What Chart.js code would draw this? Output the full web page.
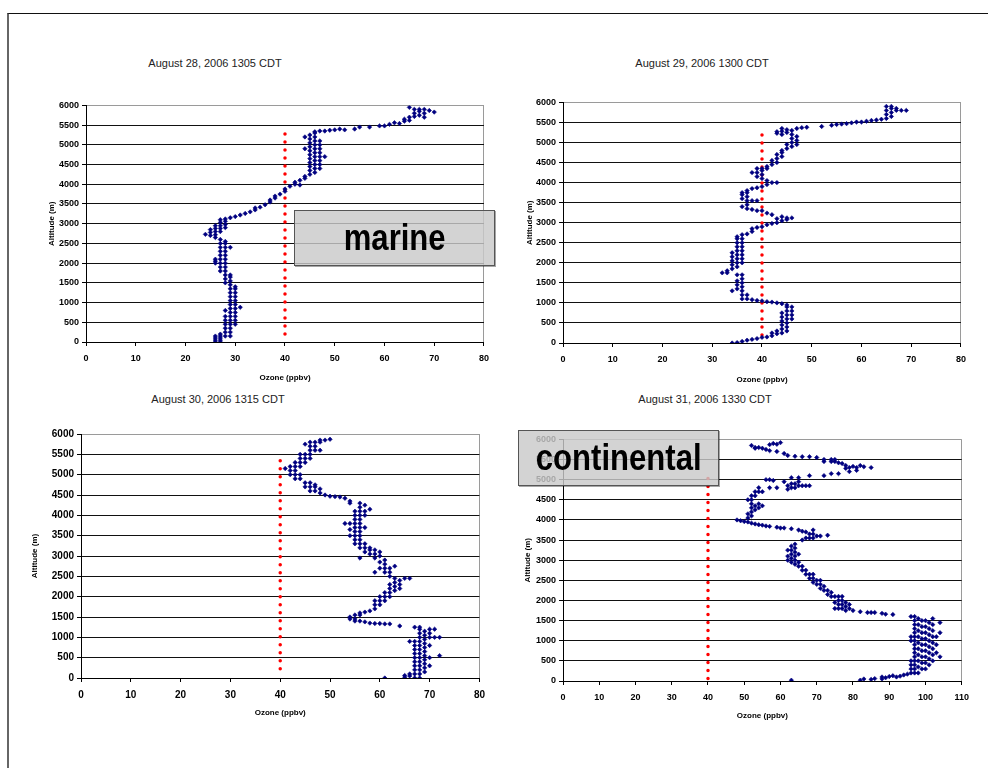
<!DOCTYPE html>
<html lang="en">
<head>
<meta charset="UTF-8" />
<title>Ozone profiles, August 28-31 2006</title>
<script src="https://cdn.jsdelivr.net/npm/chart.js"></script>
<style>
    body { margin: 0; background: #fff; font-family: "Liberation Sans", Arial, sans-serif; }
    #page { position: relative; width: 988px; height: 768px; overflow: hidden; }
    #frame { position: absolute; left: 7px; top: 13px; right: -4px; bottom: -4px; border-top: 1px solid #111; border-left: 2px solid #666; }
    canvas { position: absolute; }
    .title { position: absolute; font-size: 11px; color: #222; white-space: nowrap; transform: translateX(-50%); }
    .tag { position: absolute; box-sizing: border-box; background: rgba(201,201,201,0.82); border: 1px solid #555;
           box-shadow: 1px 1px 0 rgba(0,0,0,0.35);
           display: flex; align-items: center; justify-content: center; font-size: 37px; font-weight: bold; color: #000; }
    .tag span { display: inline-block; transform: scaleX(0.84); }
</style>
</head>
<body>
<div id="page">
    <div id="frame"></div>

    <div class="title" style="left:215px; top:57px;">August 28, 2006 1305 CDT</div>
    <div class="title" style="left:702px; top:57px;">August 29, 2006 1300 CDT</div>
    <div class="title" style="left:218px; top:393px;">August 30, 2006 1315 CDT</div>
    <div class="title" style="left:705px; top:393px;">August 31, 2006 1330 CDT</div>

    <canvas id="aug28" width="449" height="286" style="left:47px; top:97px;"></canvas>
    <canvas id="aug29" width="448" height="291" style="left:525px; top:94px;"></canvas>
    <canvas id="aug30" width="462" height="293" style="left:30px; top:425px;"></canvas>
    <canvas id="aug31" width="453" height="290" style="left:523px; top:431px;"></canvas>

    <div class="tag" style="left:294px; top:210px; width:201px; height:56px;"><span>marine</span></div>
    <div class="tag" style="left:518px; top:430px; width:201px; height:56px;"><span>continental</span></div>
</div>

<script>
    // [ozone ppbv, altitude m] for each sounding
    const aug28 = [
        [26,0],[26,50],[26,100],[26,150],[27,0],[27,50],[27,100],[27,150],[27,200],
        [28,150],[28,250],[28,350],[28,450],[28,550],[28,650],[28,800],
        [29,150],[29,250],[29,350],[29,450],[29,550],[29,650],[29,750],[29,850],[29,950],[29,1050],
        [29,1150],[29,1250],[29,1350],[29,1450],[29,1550],[29,1650],[29,1700],
        [30,450],[30,550],[30,650],[30,750],[30,850],[30,950],[30,1050],[30,1150],[30,1250],[30,1350],[30,1400],
        [31,880],
        [28,1500],[28,1600],[28,1700],[28,1800],[28,1900],[28,2000],[28,2100],[28,2200],[28,2300],[28,2400],[28,2500],[28,2550],
        [27,1800],[27,1900],[27,2000],[27,2100],[27,2200],[27,2300],[27,2400],[27,2500],[27,2600],
        [26,2000],[26,2050],[26,2100],[29,2400],
        [24,2730],[25,2700],[25,2780],[25,2850],[26,2650],[26,2720],[26,2800],[26,2880],[26,2950],
        [27,2800],[27,2880],[27,2950],[27,3030],[27,3100],[28,2900],[28,2980],[28,3060],[28,3120],
        [29,3150],[30,3180],[31,3220],[32,3260],[33,3300],[34,3350],[34,3400],[35,3420],[36,3480],
        [37,3550],[37,3600],[38,3650],[38,3700],[39,3750],[40,3820],[40,3880],[41,3950],[42,4000],
        [42,4050],[43,4100],[43,3980],[44,4150],[44,4200],
        [45,4250],[45,4350],[45,4450],[45,4550],[45,4650],[45,4750],[45,4850],[45,4950],[45,5050],[45,5150],[45,5250],
        [46,4300],[46,4400],[46,4500],[46,4600],[46,4700],[46,4800],[46,4900],[46,5000],[46,5100],[46,5200],[46,5300],
        [47,4400],[47,4500],[47,4600],[47,4700],[47,4800],[47,4900],[47,5000],[47,5100],
        [44,4900],[44,5200],[48,4700],
        [46,5330],[47,5350],[48,5350],[49,5370],[50,5380],[51,5400],[52,5380],[54,5400],[55,5450],
        [57,5450],[59,5480],[60,5480],[61,5520],[62,5560],[63,5540],[64,5600],[64,5650],[65,5620],
        [65,5700],[66,5720],[66,5800],[66,5900],[67,5750],[67,5850],[67,5900],[68,5700],[68,5800],
        [68,5900],[69,5870],[70,5830],[65,5950]
    ];

    const aug29 = [
        [34,0],[35,10],[36,40],[37,70],[38,90],[39,110],[40,140],[41,150],[42,180],[42,250],
        [43,230],[43,300],[44,250],[44,350],
        [44,450],[44,550],[44,650],[44,750],
        [45,300],[45,400],[45,500],[45,600],[45,700],[45,800],[45,900],[45,950],
        [46,600],[46,700],[46,800],[46,900],
        [44,980],[43,1000],[42,1020],[41,1030],[40,1050],[39,1060],[38,1080],[37,1100],[37,1200],
        [36,1100],[36,1200],[36,1300],[36,1400],[36,1500],[36,1600],[36,1700],
        [35,1350],[35,1450],[35,1550],[35,1700],[34,1300],[33,1750],[32,1750],[33,1800],
        [34,1850],[34,1950],[34,2050],[34,2150],[34,2250],
        [35,1900],[35,2000],[35,2100],[35,2200],[35,2300],[35,2400],[35,2500],[35,2600],[35,2650],
        [36,2000],[36,2100],[36,2200],[36,2300],[36,2400],[36,2500],[36,2600],[36,2700],
        [37,2720],[38,2780],[38,2850],[39,2880],[40,2900],[41,2950],[42,2980],[43,3000],[43,3100],
        [44,3050],[44,3150],[45,3080],[45,3120],[46,3120],
        [42,3200],[41,3240],[40,3300],[39,3300],[38,3330],
        [37,3350],[37,3450],[37,3550],[37,3650],[37,3750],[37,3800],
        [36,3400],[36,3600],[36,3700],[36,3750],
        [38,3550],[39,3550],[38,3850],[39,3870],[40,3900],[41,3950],[41,4050],[42,4000],[43,4000],
        [40,4100],[40,4200],[40,4300],[40,4350],[39,4150],[39,4250],[39,4350],[38,4250],
        [41,4350],[41,4400],[42,4450],[42,4550],[43,4500],[43,4600],[43,4700],[44,4650],[44,4750],
        [44,4800],[45,4850],[45,4950],[46,4900],[46,5000],[46,5100],[46,5200],[47,4950],[47,5050],[47,5150],
        [43,5230],[43,5270],[44,5200],[44,5280],[44,5350],[45,5250],[45,5320],[46,5300],[47,5350],
        [48,5370],[49,5380],[52,5400],[54,5430],[55,5450],[56,5460],[57,5470],[58,5490],[59,5510],
        [60,5510],[61,5530],[62,5550],[63,5560],[64,5580],[65,5600],[65,5700],[65,5800],[65,5900],
        [66,5650],[66,5750],[66,5850],[66,5900],[67,5800],[67,5850],[68,5800],[69,5800]
    ];

    const aug30 = [
        [61,0],[65,20],[65,60],[66,50],[66,100],
        [67,0],[67,100],[67,200],[67,300],[67,400],[67,500],[67,600],[67,700],[67,800],[67,900],
        [68,0],[68,100],[68,200],[68,300],[68,400],[68,500],[68,600],[68,700],[68,800],[68,900],
        [68,1000],[68,1100],[68,1200],
        [69,150],[69,250],[69,350],[69,450],[69,550],[69,650],[69,750],[69,850],[69,950],[69,1050],[69,1150],
        [70,300],[70,500],[70,800],[70,1000],[70,1100],
        [71,1000],[71,1200],[72,1000],[72,550],[66,900],[67,1250],[68,1250],[70,1200],
        [64,1280],[62,1330],[61,1330],[60,1340],[59,1340],[58,1350],[57,1380],[56,1400],[55,1400],
        [54,1450],[54,1500],[55,1450],[55,1550],[56,1550],[56,1600],[57,1620],[58,1650],
        [59,1700],[59,1800],[59,1900],[60,1800],[60,1900],[60,2000],[61,1900],[61,2000],[61,2100],
        [62,2000],[62,2100],[62,2200],[62,2300],[63,2150],[63,2250],[63,2350],[63,2450],
        [64,2200],[64,2300],[64,2400],[65,2450],[66,2450],
        [62,2500],[62,2600],[62,2700],[61,2600],[61,2700],[61,2800],[61,2900],
        [60,2700],[60,2850],[60,3000],[60,3100],[59,2600],[63,2750],
        [59,2950],[59,3050],[59,3150],[58,3050],[58,3150],[58,3200],[57,3100],[57,3200],[57,3300],
        [56,3200],[56,3300],[56,3400],[56,3500],[56,3600],[56,3700],[56,3800],[56,3900],[56,4000],
        [56,4100],[56,4200],[56,4300],
        [55,3300],[55,3400],[55,3500],[55,3600],[55,3700],[55,3800],[55,3900],[55,4000],[55,4100],
        [54,3500],[54,3650],[54,3800],[53,3800],[57,3700],[57,4000],[57,4100],[57,4250],[58,4150],
        [54,4300],[54,4350],[56,2950],
        [53,4420],[52,4450],[51,4460],[50,4470],[49,4500],[48,4550],[48,4650],[47,4600],[47,4700],
        [47,4750],[46,4600],[46,4700],[46,4800],[45,4700],[45,4800],[44,4900],[44,5000],
        [43,4900],[43,5000],[43,5100],[43,5200],[43,5300],[42,5000],[42,5100],[42,5200],[41,5150],
        [44,5200],[44,5300],[44,5400],[45,5300],[45,5400],[45,5500],[44,5500],
        [46,5400],[46,5500],[46,5600],[46,5700],[46,5800],[47,5600],[47,5700],[47,5800],
        [48,5800],[48,5850],[49,5850],[50,5870],[48,5600],[45,5750]
    ];

    const aug31 = [
        [63,20],[82,20],[83,50],[85,40],[86,60],[88,50],[88,100],[89,80],[90,110],[91,130],[92,100],
        [93,120],[94,150],[95,170],[96,200],[96,300],[96,400],[96,500],
        [97,200],[97,300],[97,400],[97,500],[97,600],[97,700],[97,800],[97,900],[97,1000],[97,1100],
        [97,1200],[97,1300],[97,1400],[97,1500],[97,1600],
        [98,200],[98,350],[98,500],[98,650],[98,800],[98,950],[98,1100],[98,1250],[98,1400],[98,1550],
        [99,300],[99,450],[99,600],[99,750],[99,900],[99,1050],[99,1200],[99,1350],[99,1500],
        [100,300],[100,450],[100,600],[100,750],[100,900],[100,1050],[100,1200],[100,1350],[100,1500],
        [101,400],[101,550],[101,700],[101,850],[101,1000],[101,1150],[101,1300],[101,1450],
        [102,500],[102,650],[102,800],[102,950],[102,1100],[102,1250],[102,1400],[102,1550],
        [103,700],[103,900],[103,1100],[104,600],[104,1200],[104,1450],[96,1000],[96,1100],[96,1600],
        [91,1650],[89,1660],[88,1680],[86,1700],[85,1700],[84,1700],[82,1720],[80,1750],
        [79,1800],[79,1900],[78,1750],[78,1850],[78,1950],[77,1800],[77,1900],[77,2000],[77,2100],
        [76,1800],[76,1900],[76,2000],[76,2100],[75,1800],[75,1950],[75,2100],[74,2100],[74,2200],
        [73,2150],[73,2250],[72,2250],[72,2350],[71,2300],[71,2400],[71,2500],[70,2400],[70,2500],
        [69,2450],[69,2550],[69,2650],[68,2550],[68,2650],[67,2650],[67,2750],[66,2750],[66,2850],
        [65,2850],[65,2950],[65,3150],[64,2900],[64,3000],[64,3100],[64,3200],[64,3300],[64,3400],
        [63,2950],[63,3050],[63,3150],[63,3250],[63,3350],[62,3000],[62,3100],[62,3250],
        [66,3500],[67,3550],[68,3550],[68,3650],[69,3550],[69,3650],[69,3750],[70,3600],[71,3600],
        [73,3620],[67,3700],[66,3720],[65,3750],[63,3780],[61,3800],[60,3800],[59,3820],[57,3840],
        [56,3850],[55,3870],[54,3880],[53,3900],[52,3920],[51,3950],[50,3960],[49,3980],[48,4000],
        [51,4050],[51,4150],[52,4100],[52,4200],[52,4300],[53,4250],[53,4350],[54,4300],[54,4400],
        [55,4350],[52,4400],[52,4500],[52,4600],[51,4500],[53,4600],[53,4700],[54,4700],[55,4700],
        [54,4800],[57,4800],[59,4800],[62,4760],[62,4850],[63,4800],[63,4900],[64,4800],[64,4900],
        [65,4850],[65,4950],[66,4850],[67,4850],[68,4850],[61,4950],[58,4980],[57,5000],[56,5000],
        [63,5050],[65,5050],[68,5100],[72,5100],[74,5150],[76,5150],[79,5200],[81,5230],
        [78,5280],[78,5350],[79,5300],[80,5330],[81,5300],[82,5350],[83,5320],[85,5300],
        [72,5450],[72,5500],[74,5450],[74,5500],[75,5450],[75,5500],[76,5420],[77,5400],
        [70,5550],[68,5570],[66,5570],[64,5580],[62,5600],[61,5650],[59,5700],[57,5720],[56,5750],
        [55,5780],[54,5800],[53,5800],[52,5850],[53,5780],[58,5900],[59,5880],[60,5920],[57,5870]
    ];

    // 40 ppbv reference line: [ozone, bottom altitude, top altitude]
    const refAug28 = [40, 200, 5450];
    const refAug29 = [40, 200, 5380];
    const refAug30 = [40, 230, 5360];
    const refAug31 = [40, 60, 5200];

    const altTicks = { min: 0, max: 6000, step: 500 };

    function profileChart(id, pairs, ref, xMax, axisW, axisH, tickSize) {
        const font = "'Liberation Sans', Arial, sans-serif";
        return new Chart(document.getElementById(id), {
            type: 'scatter',
            data: {
                datasets: [{
                    data: pairs.map(p => ({ x: p[0], y: p[1] })),
                    backgroundColor: '#000080',
                    borderColor: '#000080',
                    borderWidth: 0.6,
                    pointStyle: 'rectRot',
                    pointRadius: 2.2
                }, {
                    type: 'line',
                    data: [{ x: ref[0], y: ref[1] }, { x: ref[0], y: ref[2] }],
                    borderColor: '#ff0000',
                    borderWidth: 3.5,
                    borderDash: [0, 8],
                    borderCapStyle: 'round',
                    pointRadius: 0,
                    fill: false
                }]
            },
            options: {
                responsive: false,
                animation: false,
                layout: { padding: { left: 0, top: 5, right: 10, bottom: 0 } },
                plugins: { legend: { display: false }, tooltip: { enabled: false } },
                scales: {
                    x: {
                        type: 'linear',
                        min: 0, max: xMax,
                        afterFit: s => { s.height = axisH; },
                        ticks: { stepSize: 10, padding: 7, color: '#000', callback: v => String(v),
                                 font: { family: font, size: tickSize, weight: 'bold' } },
                        grid: {
                            color: c => (c.tick && c.tick.value === xMax) ? '#9a9a9a' : 'rgba(0,0,0,0)',
                            tickColor: '#000', tickLength: 4
                        },
                        border: { color: '#000', width: 1 },
                        title: { display: true, text: 'Ozone (ppbv)', color: '#000', padding: { top: 0, bottom: 0 },
                                 font: { family: font, size: 8, weight: 'bold' } }
                    },
                    y: {
                        min: altTicks.min, max: altTicks.max,
                        afterFit: s => { s.width = axisW; },
                        ticks: { stepSize: altTicks.step, padding: 3, color: '#000', callback: v => String(v),
                                 font: { family: font, size: tickSize, weight: 'bold' } },
                        grid: {
                            color: c => (c.tick && c.tick.value === altTicks.max) ? '#9a9a9a' : '#111',
                            tickColor: '#000', tickLength: 4
                        },
                        border: { color: '#000', width: 1 },
                        title: { display: true, text: 'Altitude (m)', color: '#000', padding: { top: 0, bottom: 0 },
                                 font: { family: font, size: 8, weight: 'bold' } }
                    }
                }
            }
        });
    }

    profileChart('aug28', aug28, refAug28, 80, 39, 41, 9);
    profileChart('aug29', aug29, refAug29, 80, 38, 42, 9);
    profileChart('aug30', aug30, refAug30, 80, 51, 40, 10);
    profileChart('aug31', aug31, refAug31, 110, 40, 40, 9);
</script>
</body>
</html>
